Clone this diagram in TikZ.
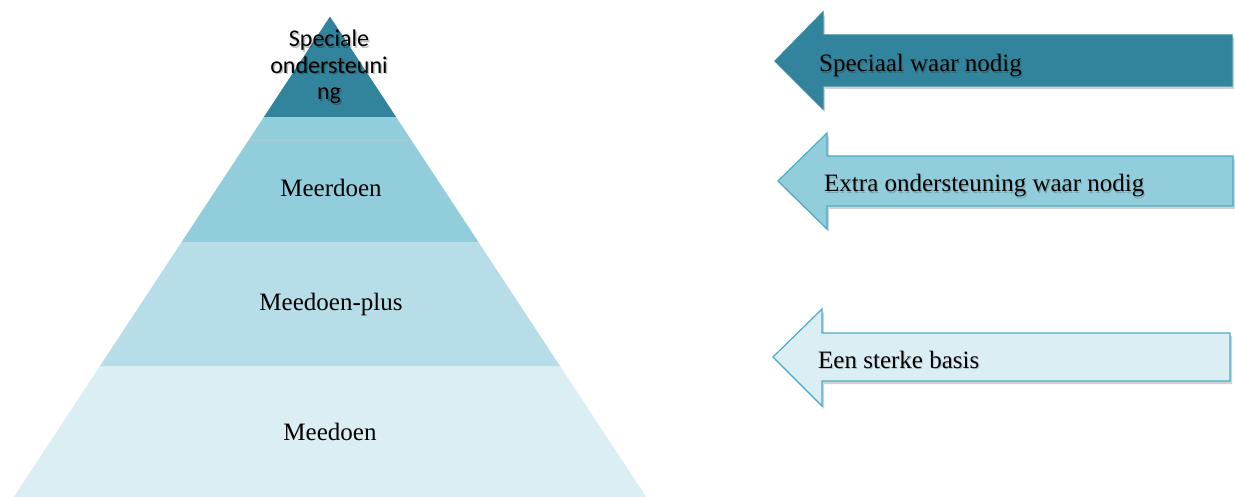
\documentclass[tikz,border=0pt]{standalone}
\usepackage{fontspec}
\setmainfont{Liberation Serif}
\newfontfamily\calib{Carlito}
\usetikzlibrary{shadows}
\definecolor{tealdark}{HTML}{31849B}
\definecolor{tealmid}{HTML}{92CDDC}
\definecolor{teallight}{HTML}{B7DEE8}
\definecolor{tealpale}{HTML}{DAEEF3}
\definecolor{tealedge}{HTML}{4BACC6}
\definecolor{bandline}{HTML}{A6CCD6}
\begin{document}
\begin{tikzpicture}[x=1pt,y=-1pt,
  lbl/.style={font=\fontsize{25}{30}\selectfont, inner sep=0pt, text=black},
  lblshadow/.style={font=\fontsize{25}{30}\selectfont, inner sep=0pt, text=black, opacity=0.18},
  toptext/.style={align=center, inner sep=0pt, text=black, font=\calib\fontsize{24}{26.5}\selectfont, anchor=base},
  arrowshape/.style={draw=tealedge, line width=1.2pt, line join=miter,
    drop shadow={shadow xshift=2pt, shadow yshift=-3pt, opacity=0.3, fill=black!60}},
]
\useasboundingbox (0,0) rectangle (1235,497);
% pyramid
\fill[tealpale] (100,366) -- (560,366) -- (646.2,497) -- (13.8,497) -- cycle;
\fill[teallight] (181.6,242) -- (478.4,242) -- (560,366) -- (100,366) -- cycle;
\fill[tealmid] (263.9,117) -- (396.1,117) -- (478.4,242) -- (181.6,242) -- cycle;
\draw[bandline, line width=0.8pt] (248.7,140) -- (411.3,140);
\fill[tealdark] (330,16.5) -- (396.1,117) -- (263.9,117) -- cycle;
% pyramid labels
\node[lbl, anchor=base] (meerdoen) at (331,197) {Meerdoen};
\node[lbl, anchor=base] (meedoenplus) at (331,311) {Meedoen-plus};
\node[lbl, anchor=base] (meedoen) at (330,440) {Meedoen};
\node[toptext, opacity=0.25] (specshadow) at (330.5,101.5) {Speciale\\ondersteuni\\ng};
\node[toptext] (speciale) at (329,100) {Speciale\\ondersteuni\\ng};
% arrows
\path[arrowshape, fill=tealdark, draw=tealdark!85!tealedge]
  (775,61) -- (823,12) -- (823,35) -- (1232,35) -- (1232,86) -- (823,86) -- (823,109) -- cycle;
\path[arrowshape, fill=tealmid]
  (778,181) -- (827,133) -- (827,156) -- (1233,156) -- (1233,206) -- (827,206) -- (827,229) -- cycle;
\path[arrowshape, fill=tealpale]
  (773,357) -- (822,309) -- (822,333) -- (1230,333) -- (1230,381) -- (822,381) -- (822,406) -- cycle;
% arrow labels
\node[lblshadow, anchor=base west] (s1) at (820,73.5) {Speciaal waar nodig};
\node[lbl, anchor=base west] (t1) at (819,72) {Speciaal waar nodig};
\node[lblshadow, anchor=base west] (s2) at (825,193.5) {Extra ondersteuning waar nodig};
\node[lbl, anchor=base west] (t2) at (824,192) {Extra ondersteuning waar nodig};
\node[lblshadow, anchor=base west] (s3) at (819,369.5) {Een sterke basis};
\node[lbl, anchor=base west] (t3) at (818,368) {Een sterke basis};
\end{tikzpicture}
\end{document}
